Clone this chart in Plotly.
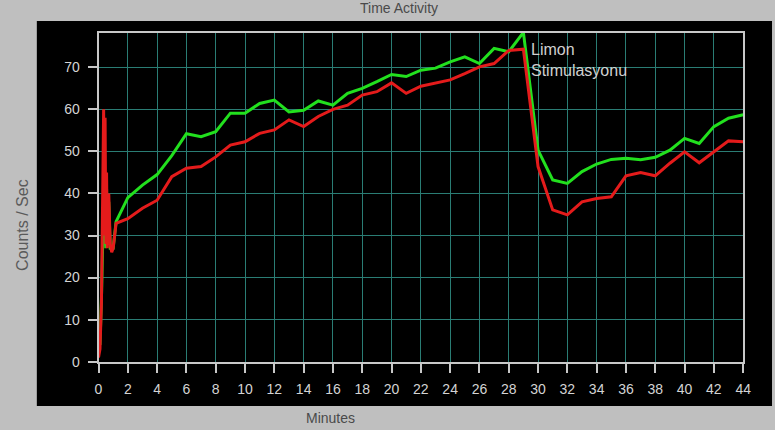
import plotly.graph_objects as go

# ---- data ----
t_early = [0, 0.1, 0.2, 0.3, 0.35, 0.4, 0.45, 0.5, 0.55, 0.6, 0.7, 0.8, 0.9, 1.0]
red_early = [1, 3, 14, 45, 60, 30, 58, 28, 45, 27, 40, 28, 26, 27]
green_early = [7, 4, 15, 30, 38, 28, 35, 27, 41, 28, 38, 27, 27, 27]

t_main = [1.2, 2, 3, 4, 5, 6, 7, 8, 9, 10, 11, 12, 13, 14, 15, 16, 17, 18, 19, 20,
          21, 22, 23, 24, 25, 26, 27, 28, 29, 30, 31, 32, 33, 34, 35, 36, 37, 38,
          39, 40, 41, 42, 43, 44]
green_main = [33.3, 39, 42, 44.5, 49, 54.2, 53.5, 54.7, 59.1, 59.1, 61.4, 62.2, 59.4,
              59.8, 62, 61, 63.8, 65, 66.6, 68.3, 67.8, 69.3, 69.8, 71.3, 72.5, 70.9,
              74.5, 73.7, 78.3, 50.3, 43.2, 42.4, 45.2, 47, 48.1, 48.4, 48, 48.6,
              50.3, 53.1, 51.9, 55.9, 57.9, 58.7]
red_main = [32.9, 34, 36.5, 38.4, 44, 46, 46.4, 48.7, 51.5, 52.3, 54.3, 55.1, 57.5,
            55.9, 58.3, 60, 61, 63.4, 64.2, 66.3, 63.8, 65.5, 66.3, 67, 68.5, 70.1,
            70.9, 74, 74.3, 46.4, 36.1, 34.9, 38, 38.8, 39.2, 44.2, 45, 44.2, 47.2,
            49.9, 47.3, 49.9, 52.5, 52.3]

x_ticks = list(range(0, 45, 2))
y_ticks = list(range(0, 71, 10))

# reference-pixel layout (775 x 430 picture)
RW, RH = 775, 430
# figure size in the page (the photograph is taken over a slightly larger area)
FW, FH = 783, 438
PL, PR, PT, PB = 95, 743, 33, 361.7
YSCALE = (PB - 67.3) / 70  # reference px per unit
YMAX = (PB - PT) / YSCALE
BG = "#bfbfbf"


def px(x):
    return x / RW


def py(y):
    return 1 - y / RH


fig = go.Figure()
fig.add_trace(go.Scatter(x=t_early + t_main, y=green_early + green_main, mode="lines",
                         line=dict(color="#22e01e", width=3), showlegend=False,
                         hoverinfo="skip"))
fig.add_trace(go.Scatter(x=t_early + t_main, y=red_early + red_main, mode="lines",
                         line=dict(color="#e41b1b", width=3), showlegend=False,
                         hoverinfo="skip"))

axis_common = dict(
    showgrid=True, gridcolor="#2a7d74", gridwidth=1,
    showline=True, linecolor="#c8c8c8", linewidth=2, mirror=True,
    ticks="outside", ticklen=9, tickcolor="#c8c8c8", tickwidth=2,
    tickfont=dict(family="Liberation Sans, Arial, sans-serif",
                  size=14, color="#d4d4d4"),
    zeroline=False, fixedrange=True,
)
fig.update_xaxes(range=[0, 44], tickvals=x_ticks, ticklabelstandoff=4,
                 domain=[px(PL), px(PR)], **axis_common)
fig.update_yaxes(range=[0, YMAX], tickvals=y_ticks, ticklabelstandoff=5,
                 domain=[py(PB), py(PT)], **axis_common)

shapes = [dict(type="rect", xref="paper", yref="paper", x0=px(33), x1=px(772),
               y0=py(406), y1=py(21), fillcolor="black", line=dict(width=0),
               layer="below")]

label_font = dict(family="Liberation Sans, Arial, sans-serif", size=14, color="#4a4a4a")
ylabel_font = dict(family="Liberation Sans, Arial, sans-serif", size=16, color="#5a5a5a")
note_font = dict(family="Liberation Sans, Arial, sans-serif", size=16, color="#d0d0d0")
annotations = [
    dict(text="Time Activity", xref="paper", yref="paper", x=px(397), y=py(8),
         showarrow=False, font=label_font, xanchor="center", yanchor="middle"),
    dict(text="Minutes", xref="paper", yref="paper", x=px(328), y=py(418),
         showarrow=False, font=label_font, xanchor="center", yanchor="middle"),
    dict(text="Counts / Sec", xref="paper", yref="paper", x=px(18), y=py(225),
         showarrow=False, font=ylabel_font, xanchor="center", yanchor="middle",
         textangle=-90),
    dict(text="Limon", xref="x", yref="y", x=29.4, y=(PB - 49) / YSCALE,
         showarrow=False, xanchor="left", yanchor="middle", font=note_font),
    dict(text="Stimulasyonu", xref="x", yref="y", x=29.4, y=(PB - 70) / YSCALE,
         showarrow=False, xanchor="left", yanchor="middle", font=note_font),
]

fig.update_layout(
    width=FW, height=FH,
    margin=dict(l=0, r=0, t=0, b=0),
    paper_bgcolor=BG, plot_bgcolor="black",
    shapes=shapes, annotations=annotations,
    showlegend=False, hovermode=False,
)

post = (
    "document.body.style.margin='0';"
    "document.body.style.background='" + BG + "';"
    "document.documentElement.style.background='" + BG + "';"
    "document.documentElement.style.overflow='hidden';"
)

fig.write_html("out.html", config={"displayModeBar": False}, post_script=post)
